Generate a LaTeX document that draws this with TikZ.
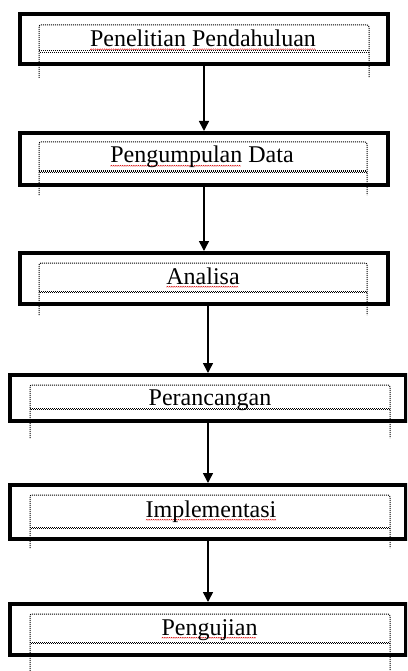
\documentclass[tikz,border=0pt]{standalone}
\usepackage{fontspec}
\setmainfont{Liberation Serif}
\usetikzlibrary{arrows.meta}
\newsavebox{\rwbox}
\newcommand\rw[1]{\sbox{\rwbox}{#1}\rlap{\raisebox{-3.2pt}[0pt][0pt]{\hbox to \wd\rwbox{\leaders\hbox{\tikz[baseline=0pt]\draw[red!85!black,line width=0.45pt] (0pt,0pt)--(0.9pt,0.9pt)--(1.8pt,0pt);}\hfill}}}\usebox{\rwbox}}
\tikzset{
  stage/.style={draw=black, line width=4pt, inner sep=0pt},
  dotbox/.style={line width=1pt, dash pattern=on 1pt off 1pt, rounded corners=2pt},
  dotline/.style={line width=1pt, dash pattern=on 1pt off 1pt},
  lbl/.style={font=\fontsize{24}{24}\selectfont, anchor=base, inner sep=0pt},
  arr/.style={line width=1.5pt, -{Triangle[width=10pt,length=10pt]}}
}
\begin{document}
\begin{tikzpicture}[x=1pt,y=-1pt]
\useasboundingbox (0,0) rectangle (407,671);
\clip (0,0) rectangle (407,671);
\fill[white] (0,0) rectangle (407,671);

% stage 1
\node[stage, minimum width=368pt, minimum height=50pt] (b1) at (204,39) {};
\draw[dotbox] (39,78) -- (39,25) -- (369,25) -- (369,78);
\draw[dotline] (39,51) -- (369,51);
\draw[dotline, dash phase=1pt] (39,52.2) -- (369,52.2);
\node[lbl] (t1) at (203,46.5) {\rw{Penelitian} \rw{Pendahuluan}};

% stage 2
\node[stage, minimum width=368pt, minimum height=52pt] (b2) at (204,159) {};
\draw[dotbox] (39,195) -- (39,142) -- (367,142) -- (367,195);
\draw[dotline] (39,171) -- (367,171);
\draw[dotline, dash phase=1pt] (39,172.2) -- (367,172.2);
\node[lbl] (t2) at (202,163) {\rw{Pengumpulan} Data};

% stage 3
\node[stage, minimum width=368pt, minimum height=51pt] (b3) at (204,278.5) {};
\draw[dotbox] (39,315) -- (39,263) -- (367,263) -- (367,315);
\draw[dotline] (39,291) -- (367,291);
\draw[dotline, dash phase=1pt] (39,292.2) -- (367,292.2);
\node[lbl] (t3) at (203,284) {\rw{Analisa}};

% stage 4
\node[stage, minimum width=396pt, minimum height=46pt] (b4) at (208,398) {};
\draw[dotbox] (30,438) -- (30,385) -- (390,385) -- (390,438);
\draw[dotline] (30,408) -- (390,408);
\draw[dotline, dash phase=1pt] (30,409.2) -- (390,409.2);
\node[lbl] (t4) at (210,405) {Perancangan};

% stage 5
\node[stage, minimum width=396pt, minimum height=54pt] (b5) at (208,512) {};
\draw[dotbox] (30,548) -- (30,495) -- (390,495) -- (390,548);
\draw[dotline] (30,527) -- (390,527);
\draw[dotline, dash phase=1pt] (30,528.2) -- (390,528.2);
\node[lbl] (t5) at (211,517) {\rw{Implementasi}};

% stage 6
\node[stage, minimum width=396pt, minimum height=51pt] (b6) at (208,629.5) {};
\draw[dotbox] (30,675) -- (30,614) -- (390,614) -- (390,675);
\draw[dotline] (30,642) -- (390,642);
\draw[dotline, dash phase=1pt] (30,643.2) -- (390,643.2);
\node[lbl] (t6) at (209.5,635) {\rw{Pengujian}};

% connectors
\draw[arr] (b1.south) -- (b2.north);
\draw[arr] (b2.south) -- (b3.north);
\draw[arr] (b4.north |- b3.south) -- (b4.north);
\draw[arr] (b4.south) -- (b5.north);
\draw[arr] (b5.south) -- (b6.north);
\end{tikzpicture}
\end{document}
